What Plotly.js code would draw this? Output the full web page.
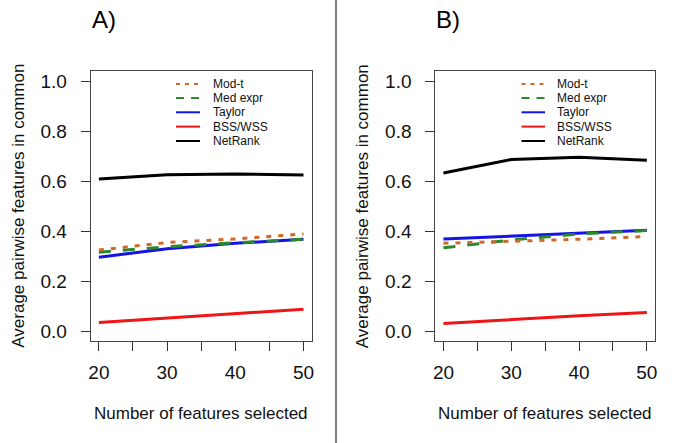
<!DOCTYPE html>
<html>
<head>
<meta charset="utf-8">
<script src="https://cdn.plot.ly/plotly-3.0.1.min.js"></script>
<style>html,body{margin:0;padding:0;background:#fff;}#chart{width:685px;height:443px;}</style>
</head>
<body>
<div id="chart"></div>
<script>
// ---- data ----
const featureCounts = [20, 30, 40, 50];
const methods = ["Mod-t", "Med expr", "Taylor", "BSS/WSS", "NetRank"];

const panelA_modt    = [0.324, 0.354, 0.368, 0.388];
const panelA_medexpr = [0.315, 0.337, 0.353, 0.367];
const panelA_taylor  = [0.295, 0.329, 0.351, 0.367];
const panelA_bss     = [0.034, 0.052, 0.070, 0.087];
const panelA_netrank = [0.608, 0.625, 0.628, 0.624];

const panelB_modt    = [0.351, 0.358, 0.367, 0.378];
const panelB_medexpr = [0.333, 0.364, 0.388, 0.402];
const panelB_taylor  = [0.368, 0.380, 0.391, 0.403];
const panelB_bss     = [0.030, 0.046, 0.061, 0.074];
const panelB_netrank = [0.632, 0.686, 0.695, 0.683];

const xTickVals = [20, 25, 30, 35, 40, 45, 50];
const xTickText = ["20", "", "30", "", "40", "", "50"];
const yTickVals = [0, 0.2, 0.4, 0.6, 0.8, 1.0];
const yTickText = ["0.0", "0.2", "0.4", "0.6", "0.8", "1.0"];
const panelLabels = ["A)", "B)"];
const xTitle = "Number of features selected";
const yTitle = "Average pairwise features in common";

// ---- styles ----
const W = 685, H = 443;
const FONT = "Liberation Sans, Arial, sans-serif";
const styles = [
  {color: "#CD6A2A", dash: "5px,7px", ldash: "4px,5px"},
  {color: "#2A8A2A", dash: "12px,12px", ldash: "8px,7px"},
  {color: "#1414E6", dash: "solid", ldash: "solid"},
  {color: "#EE1515", dash: "solid", ldash: "solid"},
  {color: "#000000", dash: "solid", ldash: "solid"}
];
const px = x => x / W;
const py = y => 1 - y / H;

const seriesA = [panelA_modt, panelA_medexpr, panelA_taylor, panelA_bss, panelA_netrank];
const seriesB = [panelB_modt, panelB_medexpr, panelB_taylor, panelB_bss, panelB_netrank];

const order = [4, 3, 2, 1, 0];
const traces = [];
[[seriesA, "x", "y"], [seriesB, "x2", "y2"]].forEach(([ser, xa, ya]) => {
  order.forEach(i => {
    traces.push({
      x: featureCounts, y: ser[i], xaxis: xa, yaxis: ya, name: methods[i],
      type: "scatter", mode: "lines", showlegend: false, hoverinfo: "skip",
      line: {color: styles[i].color, width: 3, dash: styles[i].dash}
    });
  });
});

const boxL = [90.7, 435.3], boxR = [311.7, 655], boxT = 71, boxB = 341;
const axisCommon = {
  showline: true, mirror: true, linecolor: "#444", linewidth: 1,
  showgrid: false, zeroline: false, ticks: "outside", ticklen: 9,
  tickcolor: "#333", tickwidth: 1,
  tickfont: {family: FONT, size: 19, color: "#111"}
};
const layout = {
  width: W, height: H, margin: {l: 0, r: 0, t: 0, b: 0},
  paper_bgcolor: "#fff", plot_bgcolor: "#fff", showlegend: false,
  xaxis: Object.assign({}, axisCommon, {domain: [px(boxL[0]), px(boxR[0])], range: [18.8, 51.2],
    tickvals: xTickVals, ticktext: xTickText, ticklabelstandoff: 5, anchor: "y"}),
  yaxis: Object.assign({}, axisCommon, {domain: [py(boxB), py(boxT)], range: [-0.04, 1.04],
    tickvals: yTickVals, ticktext: yTickText, ticklabelstandoff: 10, anchor: "x"}),
  xaxis2: Object.assign({}, axisCommon, {domain: [px(boxL[1]), px(boxR[1])], range: [18.8, 51.2],
    tickvals: xTickVals, ticktext: xTickText, ticklabelstandoff: 5, anchor: "y2"}),
  yaxis2: Object.assign({}, axisCommon, {domain: [py(boxB), py(boxT)], range: [-0.04, 1.04],
    tickvals: yTickVals, ticktext: yTickText, ticklabelstandoff: 10, anchor: "x2"}),
  shapes: [
    {type: "line", xref: "paper", yref: "paper", x0: px(336), x1: px(336), y0: 0, y1: 1,
     line: {color: "#555", width: 1.5}}
  ],
  annotations: []
};

const legendLineX = [[176, 200], [521.5, 545]];
const legendTextX = [210.5, 555];
const legendRowY = [84, 98, 112.3, 126.6, 141];
[0, 1].forEach(p => {
  const L = boxL[p], R = boxR[p];
  layout.annotations.push({xref: "paper", yref: "paper", x: px(L - 1), y: py(20), xanchor: "left", yanchor: "middle",
    text: panelLabels[p], showarrow: false, font: {family: FONT, size: 24, color: "#000"}});
  layout.annotations.push({xref: "paper", yref: "paper", x: px((L + R) / 2), y: py(413), xanchor: "center", yanchor: "middle",
    text: xTitle, showarrow: false, font: {family: FONT, size: 17, color: "#111"}});
  layout.annotations.push({xref: "paper", yref: "paper", x: px(L - 72), y: py((boxT + boxB) / 2), xanchor: "center", yanchor: "middle",
    text: yTitle, textangle: -90, showarrow: false, font: {family: FONT, size: 17, color: "#111"}});
  methods.forEach((m, i) => {
    layout.shapes.push({type: "line", xref: "paper", yref: "paper",
      x0: px(legendLineX[p][0]), x1: px(legendLineX[p][1]), y0: py(legendRowY[i]), y1: py(legendRowY[i]),
      line: {color: styles[i].color, width: 2, dash: styles[i].ldash}});
    layout.annotations.push({xref: "paper", yref: "paper", x: px(legendTextX[p]), y: py(legendRowY[i]),
      xanchor: "left", yanchor: "middle", text: m, showarrow: false,
      font: {family: FONT, size: 12, color: "#111"}});
  });
});

Plotly.newPlot("chart", traces, layout, {staticPlot: true, displayModeBar: false});
</script>
</body>
</html>
